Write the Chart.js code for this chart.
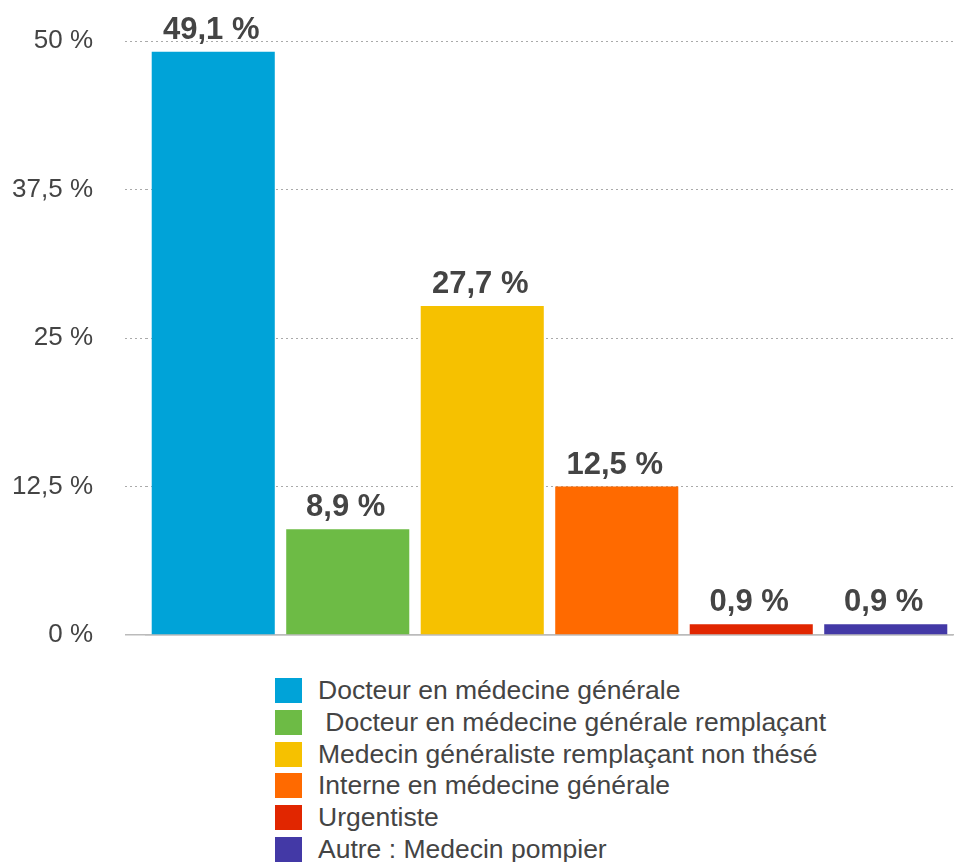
<!DOCTYPE html>
<html>
<head>
<meta charset="utf-8">
<script src="https://cdn.jsdelivr.net/npm/chart.js@4/dist/chart.umd.min.js"></script>
<style>
  html, body { margin: 0; padding: 0; background: #fff; }
  body { width: 958px; height: 862px; position: relative; overflow: hidden; font-family: "Liberation Sans", Arial, sans-serif; }
  #wrap { position: absolute; left: 0; top: 0; width: 958px; height: 660px; }
  #legend { position: absolute; left: 275px; top: 675px; margin: 0; padding: 0; list-style: none; }
  #legend li { height: 31.7px; display: flex; align-items: center; font-size: 26.5px; color: #444; white-space: pre; }
  #legend span.sw { display: inline-block; width: 27px; height: 25px; margin-right: 16px; }
</style>
</head>
<body>
<div id="wrap"><canvas id="c"></canvas></div>
<ul id="legend"></ul>
<script>
const categories = [
  "Docteur en médecine générale",
  " Docteur en médecine générale remplaçant",
  "Medecin généraliste remplaçant non thésé",
  "Interne en médecine générale",
  "Urgentiste",
  "Autre : Medecin pompier"
];
const values = [49.1, 8.9, 27.7, 12.5, 0.9, 0.9];
const colors = ["#00a3d8", "#6dbb45", "#f6c100", "#ff6a00", "#e12600", "#4339a6"];
const tickValues = [0, 12.5, 25, 37.5, 50];
const tickLabels = ["0 %", "12,5 %", "25 %", "37,5 %", "50 %"];

const fmt = v => v.toFixed(1).replace(".", ",") + " %";

const valueLabels = {
  id: "valueLabels",
  afterDatasetsDraw(chart) {
    const ctx = chart.ctx;
    const meta = chart.getDatasetMeta(0);
    ctx.save();
    ctx.font = "bold 31px 'Liberation Sans', Arial, sans-serif";
    ctx.fillStyle = "#444";
    ctx.textAlign = "center";
    ctx.textBaseline = "alphabetic";
    meta.data.forEach((bar, i) => {
      ctx.fillText(fmt(values[i]), bar.x - 2, bar.y - 13);
    });
    ctx.restore();
  }
};

new Chart(document.getElementById("c"), {
  type: "bar",
  data: {
    labels: categories,
    datasets: [{
      data: values,
      backgroundColor: colors,
      borderWidth: 0,
      barPercentage: 0.915,
      categoryPercentage: 1.0
    }]
  },
  options: {
    responsive: true,
    maintainAspectRatio: false,
    animation: false,
    events: [],
    layout: { padding: { left: 0, right: 5, top: 41, bottom: 25 } },
    plugins: { legend: { display: false }, tooltip: { enabled: false } },
    scales: {
      x: {
        ticks: { display: false },
        grid: { display: false },
        border: { display: true, color: "#bbbbbb", width: 1.5 },
        afterFit: s => { s.height = 0; s.paddingLeft = 0; s.paddingRight = 0; }
      },
      y: {
        min: 0,
        max: 50,
        afterBuildTicks: s => { s.ticks = tickValues.map(v => ({ value: v })); },
        afterFit: s => { s.width = 146; s.paddingTop = 0; s.paddingBottom = 0; },
        ticks: {
          padding: 32,
          color: "#444",
          font: { family: "'Liberation Sans', Arial, sans-serif", size: 26 },
          callback: (v, i) => tickLabels[i]
        },
        grid: {
          drawTicks: true,
          tickLength: 21,
          color: c => c.tick && c.tick.value === 0 ? "#bbbbbb" : "#aaaaaa",
          lineWidth: c => c.tick && c.tick.value === 0 ? 1.5 : 1,
          tickColor: c => c.tick && c.tick.value === 0 ? "#bbbbbb" : "#aaaaaa",
          tickWidth: c => c.tick && c.tick.value === 0 ? 1.5 : 1,
          tickBorderDash: c => c.tick && c.tick.value === 0 ? [] : [2, 3]
        },
        border: {
          display: false,
          dash: c => c.tick && c.tick.value === 0 ? [] : [2, 3]
        }
      }
    }
  },
  plugins: [valueLabels]
});

const legend = document.getElementById("legend");
categories.forEach((name, i) => {
  const li = document.createElement("li");
  const sw = document.createElement("span");
  sw.className = "sw";
  sw.style.background = colors[i];
  li.appendChild(sw);
  li.appendChild(document.createTextNode(name));
  legend.appendChild(li);
});
</script>
</body>
</html>
